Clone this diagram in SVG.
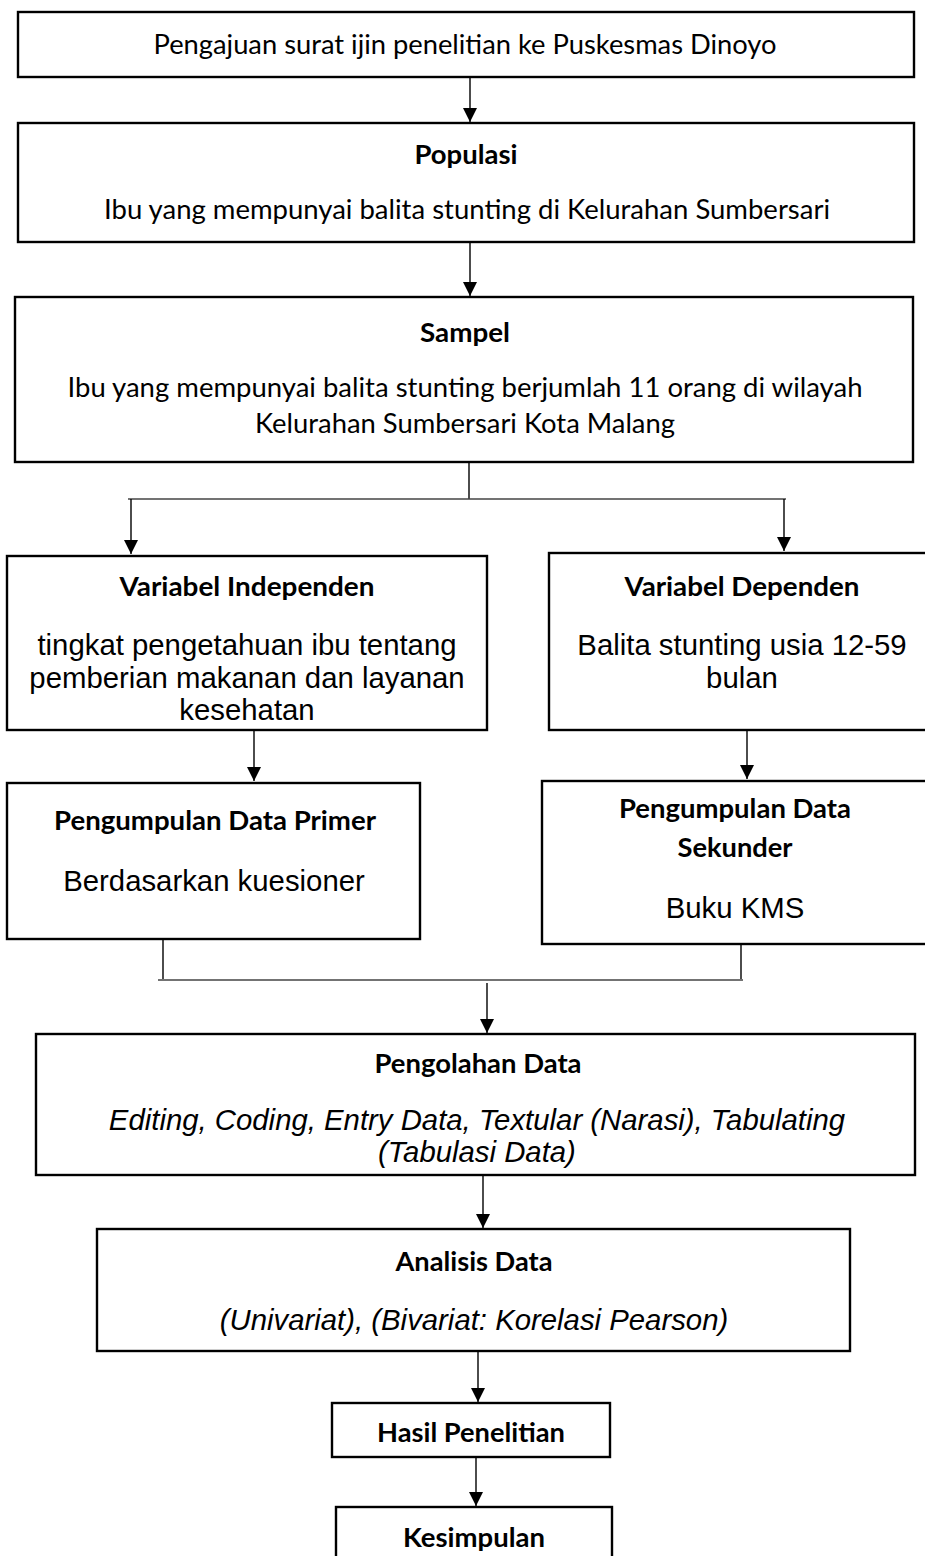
<svg xmlns="http://www.w3.org/2000/svg" width="925" height="1556" viewBox="0 0 925 1556">
<style>
.box{fill:#fff;stroke:#000;stroke-width:2.4}
.cal{font-family:Lato,"Open Sans","Liberation Sans",sans-serif;font-size:27px;fill:#000;text-anchor:middle}
.b{font-weight:bold}
.ar{font-family:"Liberation Sans",Arial,sans-serif;font-size:29.33px;fill:#000;text-anchor:middle}
.it{font-style:italic}
.ln{fill:none;stroke:#000;stroke-width:1.4}
.ln2{fill:none;stroke:#444;stroke-width:1.6}
.arr{fill:none;stroke:#000;stroke-width:1.4;marker-end:url(#ah)}
</style>
<defs>
<marker id="ah" markerUnits="userSpaceOnUse" markerWidth="14" markerHeight="15" refX="14" refY="7" orient="auto">
<path d="M0,0 L14,7 L0,14 z" fill="#000"/>
</marker>
</defs>
<rect width="925" height="1556" fill="#fff"/>
<g id="connectors">
<line class="arr" x1="470" y1="77" x2="470" y2="122"/>
<line class="arr" x1="470" y1="242" x2="470" y2="296"/>
<line class="ln" x1="469" y1="462" x2="469" y2="499"/>
<line class="ln2" x1="128" y1="499" x2="786" y2="499"/>
<line class="arr" x1="131" y1="499" x2="131" y2="554"/>
<line class="arr" x1="784" y1="499" x2="784" y2="551"/>
<line class="arr" x1="254" y1="730" x2="254" y2="781"/>
<line class="arr" x1="747" y1="730" x2="747" y2="779"/>
<line class="ln" x1="163" y1="939" x2="163" y2="979"/>
<line class="ln" x1="741" y1="944" x2="741" y2="979"/>
<line class="ln2" x1="158" y1="980" x2="743" y2="980"/>
<line class="arr" x1="487" y1="983" x2="487" y2="1033"/>
<line class="arr" x1="483" y1="1175" x2="483" y2="1228"/>
<line class="arr" x1="478" y1="1351" x2="478" y2="1402"/>
<line class="arr" x1="476" y1="1457" x2="476" y2="1506"/>
</g>
<g id="n1">
<rect class="box" x="18" y="12" width="896" height="65"/>
<text class="cal" x="465" y="54" textLength="623" lengthAdjust="spacingAndGlyphs">Pengajuan surat ijin penelitian ke Puskesmas Dinoyo</text>
</g>
<g id="n2">
<rect class="box" x="18" y="123" width="896" height="119"/>
<text class="cal b" x="466" y="164" textLength="103" lengthAdjust="spacingAndGlyphs">Populasi</text>
<text class="cal" x="467" y="219" textLength="726" lengthAdjust="spacingAndGlyphs">Ibu yang mempunyai balita stunting di Kelurahan Sumbersari</text>
</g>
<g id="n3">
<rect class="box" x="15" y="297" width="898" height="165"/>
<text class="cal b" x="465" y="342" textLength="90" lengthAdjust="spacingAndGlyphs">Sampel</text>
<text class="cal" x="465" y="397" textLength="795" lengthAdjust="spacingAndGlyphs">Ibu yang mempunyai balita stunting berjumlah 11 orang di wilayah</text>
<text class="cal" x="465" y="433" textLength="420" lengthAdjust="spacingAndGlyphs">Kelurahan Sumbersari Kota Malang</text>
</g>
<g id="n4">
<rect class="box" x="7" y="556" width="480" height="174"/>
<text class="cal b" x="247" y="596" textLength="255" lengthAdjust="spacingAndGlyphs">Variabel Independen</text>
<text class="ar" x="247" y="655">tingkat pengetahuan ibu tentang</text>
<text class="ar" x="247" y="688">pemberian makanan dan layanan</text>
<text class="ar" x="247" y="720">kesehatan</text>
</g>
<g id="n5">
<rect class="box" x="549" y="553" width="400" height="177"/>
<text class="cal b" x="742" y="596" textLength="235" lengthAdjust="spacingAndGlyphs">Variabel Dependen</text>
<text class="ar" x="742" y="655">Balita stunting usia 12-59</text>
<text class="ar" x="742" y="688">bulan</text>
</g>
<g id="n6">
<rect class="box" x="7" y="783" width="413" height="156"/>
<text class="cal b" x="215" y="830" textLength="322" lengthAdjust="spacingAndGlyphs">Pengumpulan Data Primer</text>
<text class="ar" x="214" y="891">Berdasarkan kuesioner</text>
</g>
<g id="n7">
<rect class="box" x="542" y="781" width="400" height="163"/>
<text class="cal b" x="735" y="818" textLength="232" lengthAdjust="spacingAndGlyphs">Pengumpulan Data</text>
<text class="cal b" x="735" y="857" textLength="115" lengthAdjust="spacingAndGlyphs">Sekunder</text>
<text class="ar" x="735" y="918">Buku KMS</text>
</g>
<g id="n8">
<rect class="box" x="36" y="1034" width="879" height="141"/>
<text class="cal b" x="478" y="1073" textLength="207" lengthAdjust="spacingAndGlyphs">Pengolahan Data</text>
<text class="ar it" x="477" y="1130">Editing, Coding, Entry Data, Textular (Narasi), Tabulating</text>
<text class="ar it" x="477" y="1162">(Tabulasi Data)</text>
</g>
<g id="n9">
<rect class="box" x="97" y="1229" width="753" height="122"/>
<text class="cal b" x="474" y="1271" textLength="157" lengthAdjust="spacingAndGlyphs">Analisis Data</text>
<text class="ar it" x="474" y="1330">(Univariat), (Bivariat: Korelasi Pearson)</text>
</g>
<g id="n10">
<rect class="box" x="332" y="1403" width="278" height="54"/>
<text class="cal b" x="471" y="1442" textLength="188" lengthAdjust="spacingAndGlyphs">Hasil Penelitian</text>
</g>
<g id="n11">
<rect class="box" x="336" y="1507" width="276" height="60"/>
<text class="cal b" x="474" y="1547" textLength="142" lengthAdjust="spacingAndGlyphs">Kesimpulan</text>
</g>
</svg>
